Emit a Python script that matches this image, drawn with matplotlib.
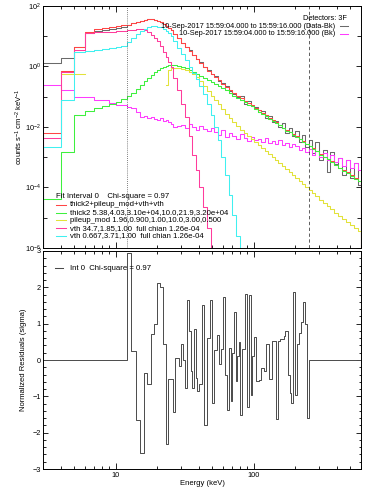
import numpy as np
import matplotlib
matplotlib.use("Agg")
import matplotlib.pyplot as plt

plt.rcParams["font.family"] = ["Liberation Sans", "DejaVu Sans"]
plt.rcParams["font.size"] = 5.3
plt.rcParams["mathtext.fontset"] = "custom"
plt.rcParams["mathtext.rm"] = "Liberation Sans"
plt.rcParams["mathtext.it"] = "Liberation Sans:italic"

# ---- spectrum bins (keV) ----
edges = [3, 4, 5, 6, 7, 8, 9, 10, 11, 12, 13, 14, 15, 16, 17, 18, 19, 20, 21, 22,
         23, 24, 25, 26, 28, 30, 32, 34, 36, 38, 40, 43, 46, 49, 52, 55, 58, 62, 66, 70,
         75, 80, 85, 90, 95, 100, 107, 114, 121, 128, 135, 143, 151, 160, 170, 180, 190,
         200, 212, 224, 236, 250, 265, 280, 300, 320, 340, 360, 385, 410, 440, 470, 500,
         535, 570, 600]

# log10(counts s^-1 cm^-2 keV^-1)
data_log = [0.12, 0.28, 0.64, 1.11, 1.17, 1.21, 1.24, 1.27, 1.31, 1.37,
            1.44, 1.47, 1.50, 1.54, 1.57, 1.57, 1.54, 1.50, 1.47, 1.40,
            1.34, 1.27, 1.21, 1.07, 0.94, 0.78, 0.64, 0.55, 0.38, 0.25,
            0.15, -0.02, -0.12, -0.25, -0.31, -0.48, -0.55, -0.64, -0.81, -0.91,
            -1.01, -0.98, -1.24, -1.14, -1.31, -1.34, -1.50, -1.47, -1.70, -1.64,
            -1.83, -1.80, -2.00, -1.87, -2.20, -2.03, -2.30, -2.13, -2.50, -2.26,
            -2.66, -2.43, -2.86, -2.50, -3.09, -2.76, -3.49, -2.83, -3.22, -3.02,
            -3.59, -3.09, -3.69, -3.19, -3.92]
bk_log = [-0.61, -0.78, -1.01, -1.01, -1.11, -1.11, -1.21, -1.27, -1.27, -1.34,
          -1.37, -1.50, -1.67, -1.64, -1.70, -1.67, -1.74, -1.77, -1.70, -1.80,
          -1.77, -1.83, -1.90, -2.00, -1.97, -1.93, -2.03, -1.90, -2.00, -2.10,
          -1.97, -2.07, -2.13, -2.03, -2.17, -2.26, -2.10, -2.33, -2.20, -2.30,
          -2.40, -2.23, -2.36, -2.46, -2.33, -2.43, -2.40, -2.50, -2.36, -2.53,
          -2.46, -2.56, -2.43, -2.60, -2.53, -2.66, -2.56, -2.63, -2.76, -2.69,
          -2.83, -2.73, -2.93, -2.79, -2.99, -2.86, -3.09, -2.93, -3.16, -3.02,
          -3.29, -3.09, -3.36, -3.19, -3.42]
total_log = [-2.20, -0.15, 0.64, 1.14, 1.24, 1.27, 1.31, 1.34, 1.36, 1.37,
             1.44, 1.47, 1.50, 1.54, 1.57, 1.57, 1.55, 1.50, 1.47, 1.40,
             1.34, 1.27, 1.21, 1.07, 0.94, 0.78, 0.64, 0.51, 0.38, 0.25,
             0.12, -0.02, -0.15, -0.25, -0.35, -0.45, -0.58, -0.68, -0.78, -0.88,
             -0.98, -1.04, -1.14, -1.21, -1.27, -1.37, -1.45, -1.54, -1.62, -1.70,
             -1.77, -1.85, -1.93, -2.02, -2.10, -2.17, -2.23, -2.31, -2.40, -2.46,
             -2.55, -2.63, -2.71, -2.79, -2.89, -2.98, -3.06, -3.14, -3.24, -3.34,
             -3.42, -3.50, -3.60, -3.70, -3.79]
thick2_log = [-4.38, -2.83, -1.60, -1.47, -1.37, -1.31, -1.24, -1.17, -1.07, -0.98,
              -0.88, -0.74, -0.61, -0.48, -0.38, -0.28, -0.18, -0.12, -0.05, -0.02,
              0.02, 0.05, 0.05, 0.05, 0.02, -0.02, -0.05, -0.12, -0.18, -0.25,
              -0.31, -0.38, -0.45, -0.51, -0.58, -0.64, -0.71, -0.79, -0.88, -0.96,
              -1.04, -1.11, -1.19, -1.26, -1.32, -1.40, -1.49, -1.57, -1.65, -1.72,
              -1.79, -1.87, -1.95, -2.03, -2.12, -2.18, -2.25, -2.33, -2.41, -2.48,
              -2.56, -2.64, -2.73, -2.81, -2.91, -2.99, -3.07, -3.16, -3.26, -3.36,
              -3.44, -3.52, -3.62, -3.72, -3.80]
# pileup: two pieces, 4-6 keV and 23-600 keV
pileup_lo_edges = [4, 5, 6]
pileup_lo_log = [-0.25, -0.25]
pileup_hi_log = [-0.61, -0.12, -0.05, -0.05, -0.05, -0.08, -0.12, -0.18, -0.25, -0.35,
                 -0.48, -0.64, -0.81, -0.98, -1.11, -1.24, -1.40, -1.57, -1.70, -1.83,
                 -1.97, -2.10, -2.20, -2.30, -2.40, -2.50, -2.60, -2.69, -2.79, -2.89,
                 -2.99, -3.09, -3.19, -3.29, -3.39, -3.49, -3.59, -3.69, -3.79, -3.88,
                 -3.98, -4.08, -4.18, -4.28, -4.41, -4.51, -4.61, -4.71, -4.84, -4.94,
                 -5.04, -5.14, -5.24, -5.34, -5.44]
vth1_log = [-2.36, -0.18, 0.55, 1.11, 1.14, 1.14, 1.14, 1.17, 1.17, 1.21,
            1.21, 1.24, 1.24, 1.21, 1.14, 1.04, 0.94, 0.84, 0.68, 0.48,
            0.31, 0.15, -0.02, -0.38, -0.78, -1.24, -1.67, -2.30, -2.93, -3.42,
            -3.98, -4.64, -5.34, -6.13]
vth2_log = [-2.66, -1.11, 0.48, 0.51, 0.55, 0.58, 0.61, 0.64, 0.68, 0.81,
            0.94, 1.07, 1.17, 1.24, 1.31, 1.34, 1.34, 1.32, 1.29, 1.24,
            1.17, 1.11, 1.01, 0.84, 0.61, 0.41, 0.21, -0.02, -0.21, -0.41,
            -0.64, -0.91, -1.24, -1.60, -2.00, -2.43, -2.99, -3.59, -4.25, -4.91,
            -5.60, -6.13]

# ---- residuals ----
fit_range = (12, 250)
res_edges = [12, 13, 14, 15, 16, 17, 18, 19, 20, 21, 22, 23, 24, 25, 26, 27, 28, 29, 30,
             31, 32, 33, 34, 35, 36, 37, 38, 39, 40, 42, 44, 46, 48, 50, 52, 54, 56, 58,
             60, 62, 64, 66, 68, 70, 72, 74, 76, 78, 80, 83, 86, 89, 92, 95, 98, 101, 104,
             107, 110, 114, 118, 122, 126, 130, 135, 140, 145, 150, 155, 160, 165, 170,
             176, 182, 188, 194, 200, 207, 214, 221, 228, 235, 242, 250]
resid = [2.95, 0.25, -1.65, -2.55, -0.35, -0.67, 0.72, 1.00, 2.13, 2.00,
         0.44, -2.30, -0.53, -0.53, -1.42, 0.06, 0.06, -0.17, 0.44, 0.0,
         -0.78, 1.64, 0.80, -0.30, -0.78, 0.86, -0.50, -0.86,
         -0.67, 1.50, -1.78, 0.60, 1.64, -1.19, 0.28, 0.70, -0.10, 0.30,
         1.73, -0.40, -1.37, 0.34, -1.14, 0.20, 1.31, -0.58, 0.10, 0.50,
         -1.50, 0.30, 1.83, -1.28, 1.80, -0.95, 0.10, 0.62, -0.58, -0.58,
         -0.55, -0.21, -0.30, 0.44, 0.44,
         -0.52, 0.53, 0.53, -1.63, 0.53, 0.58, 0.58, 0.67,
         0.80, -0.40, -0.90, -1.18, 1.87,
         -0.95, 0.44, 0.75, 1.05, 1.59, 1.00, -1.60]

C_DATA = "#6a6a6a"
C_BK = "#ff3cff"
C_TOT = "#ff4545"
C_THICK = "#3ef03e"
C_PILE = "#e2e23a"
C_VTH1 = "#ff3c9c"
C_VTH2 = "#40f0f0"
LW = 0.75


def hist_line(ax, e, logv, drop=(True, True), **kw):
    # histogram outline, optionally dropping to the floor at the ends
    v = 10.0 ** np.asarray(logv, float)
    x = np.repeat(np.asarray(e, float), 2)
    y = np.concatenate([[1e-12], np.repeat(v, 2), [1e-12]])
    if not drop[0]:
        x, y = x[1:], y[1:]
    if not drop[1]:
        x, y = x[:-1], y[:-1]
    ax.plot(x, y, **kw)


fig = plt.figure(figsize=(3.74, 4.98), dpi=100)
ax1 = fig.add_axes([0.1163, 0.502, 0.849, 0.486])
ax2 = fig.add_axes([0.1163, 0.0582, 0.849, 0.4378])

# ============ top: spectrum ============
hist_line(ax1, edges, data_log, color=C_DATA, lw=LW)
hist_line(ax1, edges, bk_log, color=C_BK, lw=LW)
hist_line(ax1, edges, total_log, color=C_TOT, lw=LW)
hist_line(ax1, edges, thick2_log, color=C_THICK, lw=LW)
hist_line(ax1, pileup_lo_edges, pileup_lo_log, drop=(False, False), color=C_PILE, lw=LW)
hist_line(ax1, edges[20:], pileup_hi_log, drop=(False, True), color=C_PILE, lw=LW)
hist_line(ax1, edges[:len(vth1_log) + 1], vth1_log, color=C_VTH1, lw=LW)
hist_line(ax1, edges[:len(vth2_log) + 1], vth2_log, color=C_VTH2, lw=LW)

ax1.axvline(fit_range[0], color="#555555", lw=0.6, ls=(0, (1, 1.5)))
ax1.axvline(fit_range[1], color="#444444", lw=0.6, ls=(0, (4, 3)))

ax1.set_xscale("log"); ax1.set_yscale("log")
ax1.set_xlim(3, 600); ax1.set_ylim(1e-6, 1e2)
ax1.set_yticks([1e-6, 1e-4, 1e-2, 1e0, 1e2])
ax1.set_yticklabels(["10$^{-6}$", "10$^{-4}$", "10$^{-2}$", "10$^{0}$", "10$^{2}$"])
ax1.set_yticks([1e-5, 1e-3, 1e-1, 1e1], minor=True)
ax1.set_yticklabels([], minor=True)
ax1.set_ylabel("counts s$^{-1}$ cm$^{-2}$ keV$^{-1}$", fontsize=5.5)
ax1.yaxis.set_label_coords(-0.057, 0.5)

# legends drawn by hand (IDL style)
tr = ax1.transAxes
ax1.text(0.956, 0.950, "Detectors: 3F", transform=tr, ha="right", va="center")
for yy, lab, col in [(0.917, "10-Sep-2017 15:59:04.000 to 15:59:16.000 (Data-Bk)", C_DATA),
                     (0.886, "10-Sep-2017 15:59:04.000 to 15:59:16.000 (Bk)", C_BK)]:
    ax1.text(0.918, yy, lab, transform=tr, ha="right", va="center")
    ax1.plot([0.934, 0.959], [yy, yy], transform=tr, color=col, lw=LW)

ax1.text(0.039, 0.211, "Fit Interval 0    Chi-square = 0.97", transform=tr,
         ha="left", va="center", fontsize=5.6)
legend_rows = [
    ("thick2+pileup_mod+vth+vth", C_TOT),
    ("thick2 5.38,4.03,3.10e+04,10.0,21.9,3.20e+04", C_THICK),
    ("pileup_mod 1.96,0.900,1.00,10.0,3.00,0.500", C_PILE),
    ("vth 34.7,1.85,1.00  full chian 1.26e-04", C_VTH1),
    ("vth 0.667,3.71,1.00  full chian 1.26e-04", C_VTH2),
]
for k, (lab, col) in enumerate(legend_rows):
    yy = 0.178 - k * 0.032
    ax1.plot([0.039, 0.071], [yy, yy], transform=tr, color=col, lw=LW)
    ax1.text(0.083, yy, lab, transform=tr, ha="left", va="center", fontsize=5.6)

# ============ bottom: residuals ============
rx = np.repeat(np.asarray([3] + res_edges + [600], float), 2)[1:-1]
ry = np.repeat(np.asarray([0.0] + resid + [0.0], float), 2)
ax2.plot(rx, ry, color="#4a4a4a", lw=0.7)
ax2.set_xscale("log")
ax2.set_xlim(3, 600); ax2.set_ylim(-3, 3)
ax2.set_yticks([-3, -2, -1, 0, 1, 2, 3])
ax2.set_yticks(np.arange(-3, 3.01, 0.2), minor=True)
ax2.set_ylabel("Normalized Residuals (sigma)", fontsize=5.5)
ax2.yaxis.set_label_coords(-0.052, 0.5)
ax2.set_xlabel("Energy (keV)", fontsize=5.5)
ax2.xaxis.set_label_coords(0.5, -0.05)
ax2.plot([0.036, 0.062], [0.921, 0.921], transform=ax2.transAxes, color="#4a4a4a", lw=LW)
ax2.text(0.083, 0.921, "Int 0  Chi-square = 0.97", transform=ax2.transAxes,
         ha="left", va="center", fontsize=5.6)

for ax in (ax1, ax2):
    ax.set_xticks([10, 100])
    ax.set_xticks([3, 4, 5, 6, 7, 8, 9, 20, 30, 40, 50, 60, 70, 80, 90,
                   200, 300, 400, 500, 600], minor=True)
    ax.xaxis.set_minor_formatter(plt.NullFormatter())
    ax.tick_params(which="both", direction="in", top=True, right=True,
                   width=0.6, labelsize=5.3, pad=2)
    ax.tick_params(axis="x", which="major", length=4.5)
    ax.tick_params(axis="x", which="minor", length=2.2)
    ax.tick_params(axis="y", which="major", length=3.5)
    ax.tick_params(axis="y", which="minor", length=3.0 if ax is ax1 else 1.8)
    for s in ax.spines.values():
        s.set_linewidth(0.7)
ax1.set_xticklabels([])
ax2.set_xticklabels(["10", "100"])

fig.savefig("out.png", dpi=100)
